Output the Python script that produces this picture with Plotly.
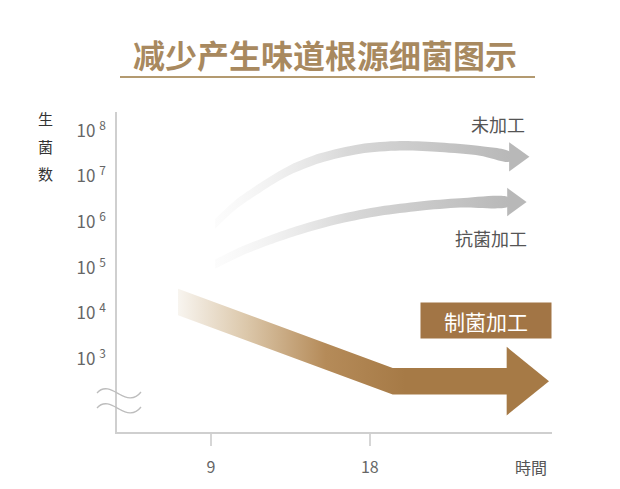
import plotly.graph_objects as go

# axis ticks
time_ticks = [9, 18]
time_labels = ["9", "18"]
count_exps = [3, 4, 5, 6, 7, 8]
count_labels = [f"10 <sup>{n}</sup>" for n in count_exps]

# arrow centre lines: time vs log10(bacteria count)
untreated_t = [9.23, 10.36, 11.78, 13.48, 15.18, 17.45, 19.71, 21.98, 24.25, 25.95]
untreated_e = [5.96, 6.37, 6.75, 7.14, 7.40, 7.60, 7.67, 7.64, 7.56, 7.43]

antibac_t = [9.23, 10.64, 12.34, 14.04, 16.31, 18.58, 20.84, 23.12, 25.84]
antibac_e = [5.08, 5.35, 5.61, 5.83, 6.07, 6.24, 6.35, 6.42, 6.44]

bacterio_t = [7.13, 19.30, 25.81]
bacterio_e = [4.25, 2.52, 2.52]

labels = ["未加工", "抗菌加工", "制菌加工"]

FONT = "Noto Sans CJK SC"
GRAY_SCALE = [[0, "rgba(240,240,240,0.2)"], [0.45, "#d8d8d8"], [1, "#b8b8b8"]]
BROWN_SCALE = [[0, "#f8f5f0"], [0.3, "#dcc8ab"], [0.65, "#b58b59"], [1, "#a67a46"]]


def X(px):
    # pixel -> paper x
    return (px - 117) / 435


def Y(py):
    # pixel -> paper y
    return (432 - py) / 320


def arrow(t, e, half_w, head_len, head_half, colors, start, stop, shape="linear"):
    upper = [v + half_w for v in e]
    lower = [v - half_w for v in e]
    grad = dict(type="horizontal", colorscale=colors, start=start, stop=stop)
    body = go.Scatter(x=t + t[::-1], y=upper + lower[::-1], mode="lines",
                      fill="toself", fillgradient=grad,
                      line=dict(width=0, shape=shape, smoothing=0.8),
                      hoverinfo="skip")
    tb, eb = t[-1] - 0.05, e[-1]
    head = go.Scatter(x=[tb, tb + head_len, tb, tb],
                      y=[eb + head_half, eb, eb - head_half, eb + head_half],
                      mode="lines", fill="toself", fillgradient=grad,
                      line=dict(width=0), hoverinfo="skip")
    return [body, head]


traces = []
traces += arrow(untreated_t, untreated_e, 0.105, 1.15, 0.32, GRAY_SCALE, 9.2, 26.0, "spline")
traces += arrow(antibac_t, antibac_e, 0.1, 1.1, 0.31, GRAY_SCALE, 9.2, 26.0, "spline")
traces += arrow(bacterio_t, bacterio_e, 0.29, 2.4, 0.75, BROWN_SCALE, 7.1, 20.0)

fig = go.Figure(data=traces)


def note(text, px, py, size, color, **kw):
    return dict(text=text, x=X(px), y=Y(py), xref="paper", yref="paper",
                xanchor="center", yanchor="middle", showarrow=False,
                font=dict(family=FONT, size=size, color=color), **kw)


annotations = [
    note("减少产生味道根源细菌图示", 325, 54, 32, "#a8895f"),
    note(labels[0], 498, 124, 18, "#555555"),
    note(labels[1], 491, 238, 18, "#555555"),
    note(labels[2], 486, 320.5, 21, "white", bgcolor="#a27545",
         width=126, height=31, borderpad=2),
    note("時間", 531, 467, 16, "#555555"),
]
annotations[0]["font"]["weight"] = "bold"
for ch, py in zip("生菌数", [118.5, 146, 173.5]):
    annotations.append(note(ch, 45, py, 15, "#333333"))

shapes = [
    dict(type="line", xref="paper", yref="paper", x0=X(120), x1=X(535), y0=Y(77), y1=Y(77),
         line=dict(color="#b39a70", width=2)),
]
for dy in [0, 15]:
    path = (f"M {X(97)},{Y(393 + dy)} C {X(104)},{Y(385 + dy)} {X(112)},{Y(390 + dy)} "
            f"{X(119)},{Y(394 + dy)} S {X(134)},{Y(401 + dy)} {X(141)},{Y(392 + dy)}")
    shapes.append(dict(type="path", xref="paper", yref="paper", path=path,
                       line=dict(color="#bdbdbd", width=1.3)))

# the page adds an 8px body margin, so the margins are shifted to compensate
fig.update_layout(
    width=620, height=489,
    margin=dict(l=109, r=76, t=104, b=65, autoexpand=False),
    paper_bgcolor="white", plot_bgcolor="white",
    showlegend=False, hovermode=False,
    annotations=annotations, shapes=shapes,
    xaxis=dict(range=[3.67, 28.33], tickvals=time_ticks, ticktext=time_labels,
               ticks="outside", ticklen=12, tickcolor="#d6d6d6", tickwidth=1.5,
               showline=True, linecolor="#cfcfcf", linewidth=1.5,
               showgrid=False, zeroline=False, ticklabelstandoff=8,
               tickfont=dict(family=FONT, size=16, color="#666666")),
    yaxis=dict(range=[1.407, 8.41], tickvals=count_exps, ticktext=count_labels,
               ticks="", showline=True, linecolor="#cfcfcf", linewidth=1.5,
               showgrid=False, zeroline=False, ticklabelstandoff=6,
               tickfont=dict(family=FONT, size=17, color="#666666")),
)

fig.write_html("out.html")
